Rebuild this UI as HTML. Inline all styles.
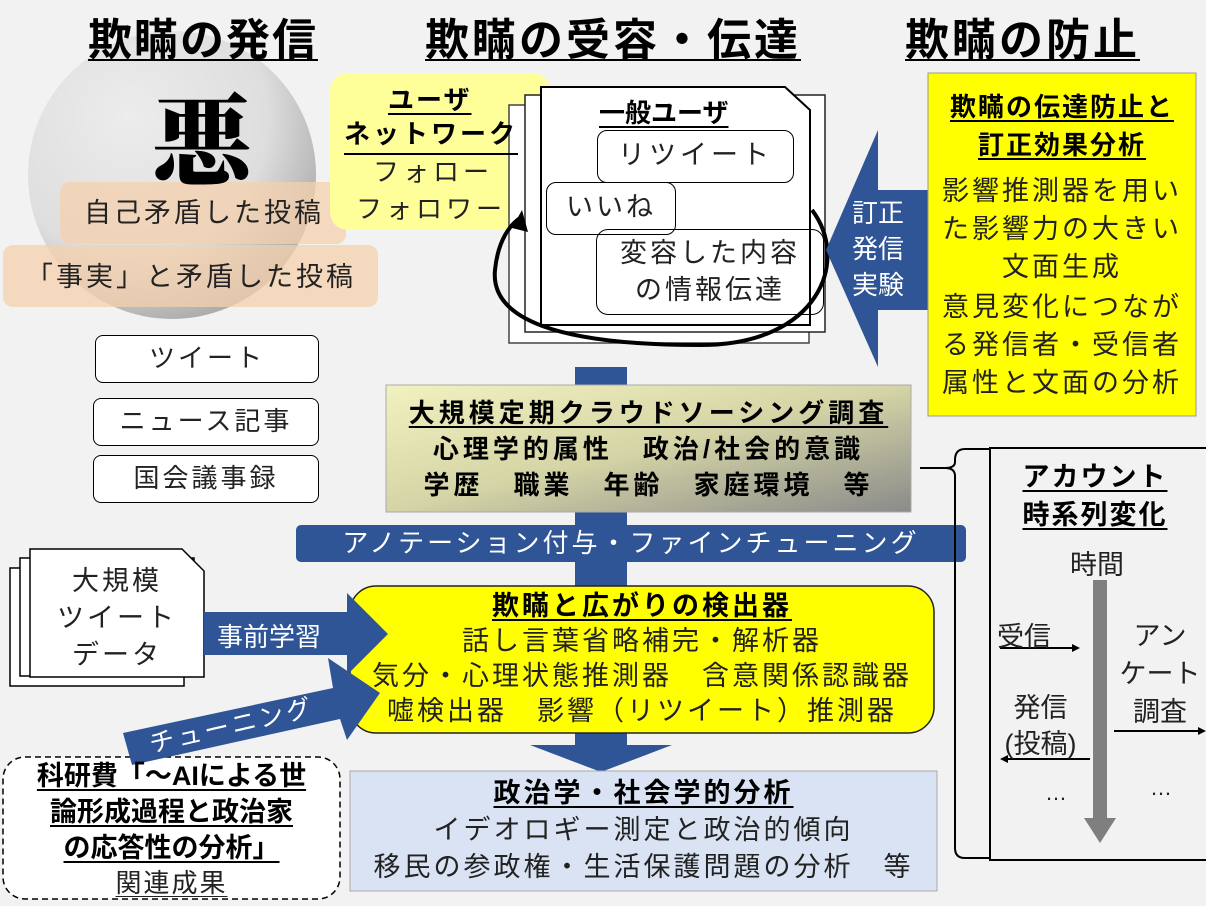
<!DOCTYPE html>
<html><head><meta charset="utf-8"><style>
body{margin:0;width:1206px;height:906px;background:#f2f2f2;overflow:hidden;position:relative;font-family:"Liberation Sans","Noto Sans CJK JP",sans-serif;color:#222}
.a{position:absolute;white-space:nowrap}
.c{text-align:center}
.b{font-weight:bold;color:#000}
.u{text-decoration:underline;text-decoration-thickness:2px;text-underline-offset:4px}
.box{position:absolute;box-sizing:border-box}
.s{letter-spacing:3px}
</style></head><body>
<svg width="1206" height="906" style="position:absolute;left:0;top:0">
<defs>
<radialGradient id="g1" cx="0.35" cy="0.3" r="0.8"><stop offset="0" stop-color="#ececec"/><stop offset="0.6" stop-color="#dedede"/><stop offset="1" stop-color="#a0a0a0"/></radialGradient>
<linearGradient id="g2" x1="0" y1="0" x2="1" y2="1"><stop offset="0" stop-color="#f2f2c0"/><stop offset="0.5" stop-color="#d4d4a6"/><stop offset="1" stop-color="#8a8a8a"/></linearGradient>
<marker id="ah" markerWidth="8" markerHeight="8" refX="6" refY="4" orient="auto" markerUnits="userSpaceOnUse"><path d="M0,0 L8,4 L0,8z" fill="#000"/></marker>
</defs>
<circle cx="172" cy="175" r="144" fill="url(#g1)"/>
<rect x="60" y="182" width="286" height="62" rx="10" fill="#f6d0ad" opacity="0.75"/>
<rect x="3" y="245" width="375" height="62" rx="10" fill="#f6d0ad" opacity="0.75"/>
<rect x="330" y="73" width="220" height="157" rx="18" fill="#ffff99"/>
<rect x="509" y="105" width="300" height="238" fill="#fff" stroke="#444" stroke-width="1.5"/>
<rect x="525" y="95" width="300" height="237" fill="#fff" stroke="#222" stroke-width="1.5"/>
<path d="M541,87 L785,87 L810,110 L810,325 L541,325Z" fill="#fff" stroke="#000" stroke-width="2"/>
<path d="M812,210 C850,260 820,345 700,345 C560,345 490,320 495,270 C498,240 510,225 520,218" fill="none" stroke="#000" stroke-width="4"/>
<path d="M512,228 L522,210 L528,232Z" fill="#000"/>
<path d="M826,250 L878,130 L878,190 L928,190 L928,310 L878,310 L878,367Z" fill="#2f5597"/>
<rect x="928" y="73" width="268" height="343" fill="#ffff00" stroke="#999" stroke-width="1"/>
<rect x="575" y="367" width="52" height="380" fill="#2f5597"/>
<path d="M530,745 L672,745 L601,772Z" fill="#2f5597"/>
<rect x="386" y="385" width="525" height="127" fill="url(#g2)" stroke="#aaa"/>
<rect x="296" y="525" width="670" height="37" rx="5" fill="#2f5597"/>
<path d="M990,449 L965,449 Q955,449 955,460 L955,462 Q955,468 945,468 L920,468 M945,468 Q955,468 955,476 L955,848 Q955,858 965,858 L990,858" fill="none" stroke="#000" stroke-width="2"/>
<rect x="990" y="448" width="230" height="412" fill="#f2f2f2" stroke="#000" stroke-width="2"/>
<rect x="1093" y="580" width="14" height="240" fill="#7f7f7f"/>
<path d="M1084,818 L1116,818 L1100,843Z" fill="#7f7f7f"/>
<line x1="1000" y1="648" x2="1078" y2="648" stroke="#000" stroke-width="2" marker-end="url(#ah)"/>
<line x1="1090" y1="759" x2="1002" y2="759" stroke="#000" stroke-width="2" marker-end="url(#ah)"/>
<line x1="1114" y1="731" x2="1204" y2="731" stroke="#000" stroke-width="2" marker-end="url(#ah)"/>
<rect x="350" y="586" width="584" height="147" rx="26" fill="#ffff00" stroke="#222" stroke-width="1.5"/>
<rect x="10" y="568" width="174" height="118" fill="#fff" stroke="#000" stroke-width="1.5"/>
<rect x="20" y="558" width="174" height="118" fill="#fff" stroke="#000" stroke-width="1.5"/>
<path d="M30,549 L182,549 L204,571 L204,677 L30,677Z" fill="#fff" stroke="#000" stroke-width="1.5"/>
<path d="M204,612 L347,612 L347,593 L388,634 L347,675 L347,655 L204,655Z" fill="#2f5597"/>
<rect x="3" y="757" width="337" height="142" rx="22" fill="#fff" stroke="#000" stroke-width="1.5" stroke-dasharray="6,4"/>
<path d="M123,733 L333,688 L328,658 L380,693 L347,740 L340,719 L132,765Z" fill="#2f5597"/>
<rect x="350" y="771" width="587" height="120" fill="#dae3f3" stroke="#aaa"/>
</svg>

<div class="a b u c" style="left:88px;top:4px;font-size:44px;letter-spacing:2px">欺瞞の発信</div>
<div class="a b u c" style="left:425px;top:4px;font-size:44px;letter-spacing:3px">欺瞞の受容・伝達</div>
<div class="a b u c" style="left:905px;top:4px;font-size:44px;letter-spacing:3px">欺瞞の防止</div>

<div class="a b" style="left:152px;top:62px;font-size:100px;font-family:'Noto Serif CJK SC','Liberation Serif',serif;font-weight:900">悪</div>
<div class="a s" style="left:84px;top:191px;font-size:27px">自己矛盾した投稿</div>
<div class="a s" style="left:26px;top:255px;font-size:27px">「事実」と矛盾した投稿</div>

<div class="box c s" style="left:95px;top:335px;width:224px;height:48px;border:1.5px solid #000;border-radius:8px;background:#fff;font-size:26px;line-height:44px">ツイート</div>
<div class="box c s" style="left:93px;top:398px;width:226px;height:48px;border:1.5px solid #000;border-radius:8px;background:#fff;font-size:26px;line-height:44px">ニュース記事</div>
<div class="box c s" style="left:93px;top:455px;width:226px;height:48px;border:1.5px solid #000;border-radius:8px;background:#fff;font-size:26px;line-height:44px">国会議事録</div>

<div class="a b u" style="left:388px;top:80px;font-size:26px;letter-spacing:2px">ユーザ</div>
<div class="a b" style="left:344px;top:114px;font-size:26px;border-bottom:2px solid #000;letter-spacing:3px;padding-bottom:2px">ネットワーク</div>
<div class="a" style="left:373px;top:152px;font-size:26px;letter-spacing:4px">フォロー</div>
<div class="a" style="left:356px;top:189px;font-size:26px;letter-spacing:4px">フォロワー</div>

<div class="a b u" style="left:599px;top:93px;font-size:26px">一般ユーザ</div>
<div class="box c" style="left:597px;top:130px;width:197px;height:53px;border:1.5px solid #000;border-radius:10px;background:#fff;font-size:27px;line-height:48px;letter-spacing:4px">リツイート</div>
<div class="box c s" style="left:546px;top:182px;width:130px;height:53px;border:1.5px solid #000;border-radius:10px;background:#fff;font-size:27px;line-height:48px">いいね</div>
<div class="box c s" style="left:596px;top:229px;width:228px;height:86px;border:1.5px solid #000;border-radius:12px;font-size:27px;line-height:37px;padding-top:5px">変容した内容<br>の情報伝達</div>

<div class="a c" style="left:852px;top:195px;font-size:26px;line-height:36px;color:#fff">訂正<br>発信<br>実験</div>

<div class="a b u c" style="left:930px;top:88px;width:264px;font-size:26px;line-height:38px;letter-spacing:2px">欺瞞の伝達防止と<br>訂正効果分析</div>
<div class="a c s" style="left:930px;top:172px;width:264px;font-size:27px;line-height:38px">影響推測器を用い<br>た影響力の大きい<br>文面生成</div>
<div class="a c s" style="left:930px;top:288px;width:264px;font-size:27px;line-height:38px">意見変化につなが<br>る発信者・受信者<br>属性と文面の分析</div>

<div class="a b c" style="left:386px;top:395px;width:525px;font-size:26px;line-height:36px;letter-spacing:4px"><span class="u">大規模定期クラウドソーシング調査</span><br>心理学的属性　政治/社会的意識<br>学歴　職業　年齢　家庭環境　等</div>

<div class="a c" style="left:296px;top:525px;width:670px;font-size:26px;line-height:37px;color:#fff;letter-spacing:3px">アノテーション付与・ファインチューニング</div>

<div class="a b u c" style="left:990px;top:458px;width:210px;font-size:27px;line-height:38px;letter-spacing:2px">アカウント<br>時系列変化</div>
<div class="a" style="left:1070px;top:543px;font-size:27px">時間</div>
<div class="a" style="left:997px;top:615px;font-size:27px">受信</div>
<div class="a c" style="left:1115px;top:617px;width:90px;font-size:27px;line-height:38px">アン<br>ケート<br>調査</div>
<div class="a c" style="left:993px;top:690px;width:95px;font-size:27px;line-height:36px">発信<br>(投稿)</div>
<div class="a" style="left:1045px;top:780px;font-size:22px">…</div>
<div class="a" style="left:1150px;top:775px;font-size:22px">…</div>

<div class="a c s" style="left:30px;top:563px;width:174px;font-size:27px;line-height:37px">大規模<br>ツイート<br>データ</div>
<div class="a" style="left:217px;top:617px;font-size:26px;color:#fff">事前学習</div>
<div class="a" style="left:150px;top:730px;font-size:25px;color:#fff;transform:rotate(-13deg);transform-origin:0 50%;letter-spacing:3px;line-height:30px">チューニング</div>

<div class="a c" style="left:350px;top:589px;width:584px;font-size:27px;line-height:35px;letter-spacing:3px"><span class="b u">欺瞞と広がりの検出器</span><br>話し言葉省略補完・解析器<br>気分・心理状態推測器　含意関係認識器<br>嘘検出器　影響（リツイート）推測器</div>

<div class="a b c" style="left:3px;top:758px;width:337px;font-size:27px;line-height:36px"><span class="u">科研費「〜AIによる世</span><br><span class="u">論形成過程と政治家</span><br><span class="u">の応答性の分析」</span></div>
<div class="a c u" style="left:3px;top:863px;width:337px;font-size:26px;text-decoration-thickness:1px;letter-spacing:2px">関連成果</div>

<div class="a c" style="left:350px;top:775px;width:587px;font-size:27px;line-height:37px;letter-spacing:3px"><span class="b u">政治学・社会学的分析</span><br>イデオロギー測定と政治的傾向<br>移民の参政権・生活保護問題の分析　等</div>
</body></html>
